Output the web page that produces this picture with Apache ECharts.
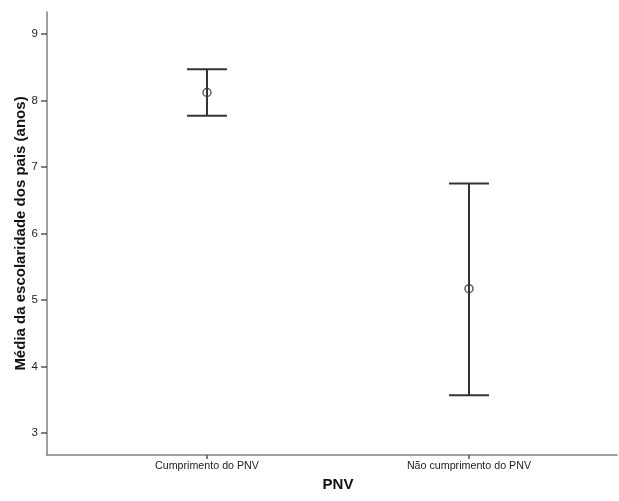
<!DOCTYPE html>
<html>
<head>
<meta charset="utf-8">
<script src="https://cdn.jsdelivr.net/npm/echarts@6/dist/echarts.min.js"></script>
<style>html,body{margin:0;padding:0;background:#fff}#c{width:619px;height:501px}</style>
</head>
<body>
<div id="c"></div>
<script>
const categories = ['Cumprimento do PNV', 'Não cumprimento do PNV'];
const means = [8.12, 5.17];
const lower = [7.77, 3.57];
const upper = [8.47, 6.75];
const yTicks = [3, 4, 5, 6, 7, 8, 9];

const chart = echarts.init(document.getElementById('c'), null, {renderer: 'canvas'});
const errData = categories.map((c, i) => [i, lower[i], upper[i]]);
const meanData = categories.map((c, i) => [i, means[i]]);
const font = 'Liberation Sans, Arial, sans-serif';

chart.setOption({
  backgroundColor: '#fff',
  animation: false,
  grid: {left: 47, right: 2, top: 12, bottom: 46, containLabel: false, outerBoundsMode: 'none'},
  xAxis: {
    type: 'value', min: -0.6107, max: 1.565,
    name: 'PNV', nameLocation: 'middle', nameGap: 22, nameMoveOverlap: false,
    nameTextStyle: {fontFamily: font, fontSize: 15, fontWeight: 'bold', color: '#111', padding: [0, 0, 0, 12]},
    axisLine: {onZero: false, lineStyle: {color: '#808080', width: 1.5}},
    axisTick: {show: true, customValues: [0, 1], length: 4, lineStyle: {color: '#555', width: 1.5}},
    axisLabel: {customValues: [0, 1], formatter: v => categories[Math.round(v)] || '', fontFamily: font, fontSize: 10.7, color: '#222', margin: 6},
    splitLine: {show: false}
  },
  yAxis: {
    type: 'value', min: 2.67, max: 9.33,
    name: 'Média da escolaridade dos pais (anos)', nameLocation: 'middle', nameGap: 19, nameMoveOverlap: false,
    nameTextStyle: {fontFamily: font, fontSize: 15, fontWeight: 'bold', color: '#111'},
    axisLine: {show: true, onZero: false, lineStyle: {color: '#808080', width: 1.5}},
    axisTick: {show: true, customValues: yTicks, length: 6, lineStyle: {color: '#555', width: 1.5}},
    axisLabel: {customValues: yTicks, fontFamily: font, fontSize: 11.5, color: '#222', margin: 9},
    splitLine: {show: false}
  },
  series: [
    {
      type: 'custom',
      data: errData,
      renderItem: function (params, api) {
        const x = api.value(0);
        const lo = api.coord([x, api.value(1)]);
        const hi = api.coord([x, api.value(2)]);
        const hw = 20;
        const style = {stroke: '#333', lineWidth: 2};
        return {
          type: 'group',
          children: [
            {type: 'line', shape: {x1: hi[0], y1: hi[1], x2: lo[0], y2: lo[1]}, style: style},
            {type: 'line', shape: {x1: hi[0] - hw, y1: hi[1], x2: hi[0] + hw, y2: hi[1]}, style: style},
            {type: 'line', shape: {x1: lo[0] - hw, y1: lo[1], x2: lo[0] + hw, y2: lo[1]}, style: style}
          ]
        };
      },
      z: 2
    },
    {
      type: 'scatter',
      data: meanData,
      symbol: 'circle',
      symbolSize: 8,
      itemStyle: {color: 'rgba(255,255,255,0)', borderColor: '#333', borderWidth: 1.5},
      z: 3
    }
  ]
});
</script>
</body>
</html>
